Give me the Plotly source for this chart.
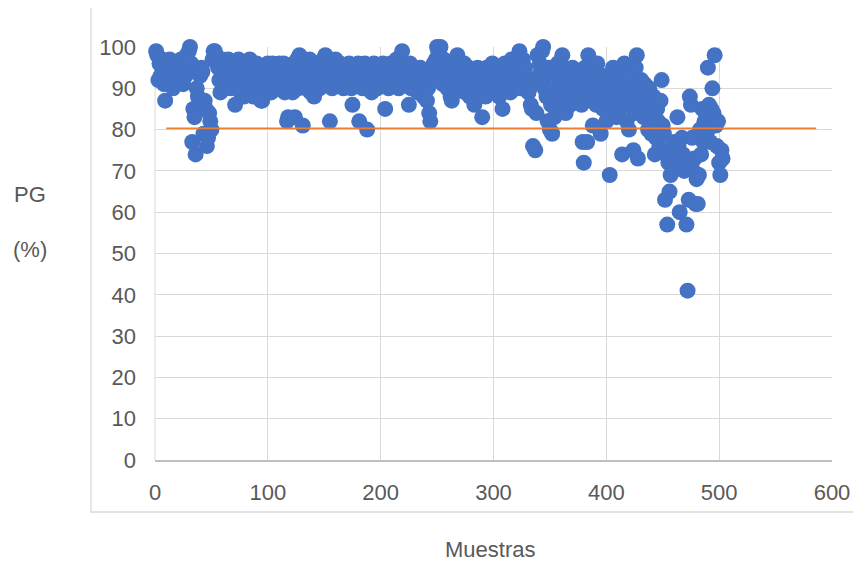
import plotly.graph_objects as go

# PG (%) per sample (sample number = position in list, starting at 1)
pg = [
    99, 98, 92, 96, 93, 97, 95, 91, 87, 94,
    96, 93, 97, 92, 95, 90, 94, 91, 96, 93,
    95, 92, 97, 94, 91, 96, 93, 98, 95, 99,
    100, 96, 77, 85, 83, 74, 90, 88, 86, 93,
    95, 94, 79, 87, 85, 76, 78, 84, 82, 80,
    97, 99, 99, 98, 96, 95, 92, 89, 94, 97,
    93, 96, 91, 95, 97, 92, 90, 94, 96, 93,
    86, 95, 91, 97, 94, 89, 92, 96, 88, 93,
    95, 91, 94, 97, 90, 93, 88, 95, 92, 96,
    89, 94, 91, 87, 87, 92, 95, 90, 93, 96,
    91, 94, 89, 96, 92, 90, 95, 93, 91, 96,
    94, 90, 93, 96, 89, 92, 82, 83, 95, 91,
    94, 89, 96, 83, 93, 97, 90, 98, 92, 95,
    81, 93, 96, 90, 94, 92, 97, 89, 95, 93,
    88, 94, 91, 96, 93, 90, 95, 92, 97, 94,
    98, 91, 95, 93, 82, 96, 90, 94, 92, 97,
    93, 95, 91, 96, 94, 92, 90, 95, 93, 91,
    94, 96, 92, 90, 86, 95, 93, 91, 94, 96,
    82, 92, 95, 90, 93, 96, 91, 80, 94, 92,
    95, 89, 93, 96, 91, 94, 90, 92, 95, 93,
    91, 96, 94, 85, 92, 95, 90, 93, 96, 94,
    92, 95, 91, 97, 93, 90, 94, 96, 99, 92,
    95, 91, 94, 93, 86, 96, 90, 92, 95, 93,
    91, 94, 89, 92, 95, 90, 93, 88, 91, 94,
    87, 90, 84, 82, 92, 95, 96, 93, 97, 100,
    99, 96, 100, 94, 91, 97, 93, 95, 90, 92,
    94, 88, 87, 96, 92, 89, 95, 98, 91, 93,
    90, 94, 92, 96, 89, 93, 91, 95, 88, 92,
    94, 90, 86, 93, 91, 95, 89, 92, 94, 83,
    91, 93, 88, 95, 90, 92, 94, 89, 96, 91,
    93, 90, 95, 92, 88, 94, 91, 85, 93, 96,
    90, 94, 92, 95, 89, 97, 93, 91, 96, 94,
    92, 95, 99, 90, 94, 97, 92, 95, 93, 91,
    89, 90, 86, 85, 76, 92, 75, 84, 98, 92,
    96, 94, 99, 100, 90, 93, 88, 82, 95, 80,
    86, 79, 90, 83, 85, 94, 96, 89, 92, 87,
    98, 95, 91, 84, 93, 88, 90, 86, 92, 95,
    89, 93, 87, 90, 94, 88, 92, 86, 77, 72,
    95, 89, 77, 98, 93, 91, 87, 81, 94, 90,
    86, 96, 88, 92, 79, 89, 85, 93, 87, 82,
    90, 84, 69, 92, 88, 95, 86, 91, 83, 94,
    89, 85, 93, 74, 87, 96, 91, 82, 88, 80,
    93, 86, 90, 75, 84, 95, 98, 73, 89, 85,
    92, 87, 83, 91, 88, 86, 80, 90, 84, 79,
    80, 88, 74, 78, 85, 82, 76, 87, 92, 81,
    79, 63, 74, 57, 72, 65, 69, 75, 70, 77,
    75, 73, 83, 76, 60, 71, 78, 74, 70, 72,
    57, 41, 63, 88, 86, 78, 70, 73, 62, 68,
    62, 69, 80, 74, 85, 77, 82, 84, 79, 95,
    86, 77, 85, 90, 84, 98, 81, 76, 82, 72,
    69, 75, 73,
]
muestras = list(range(1, len(pg) + 1))

# Reference (threshold) line
limite_x = [10, 586]
limite_y = [80.3, 80.3]

x_ticks = [0, 100, 200, 300, 400, 500, 600]
y_ticks = [0, 10, 20, 30, 40, 50, 60, 70, 80, 90, 100]

FONT = "Liberation Sans, Arial, sans-serif"
TXT = "#595959"
GRID = "#D9D9D9"

# page body has an 8px margin, so the figure is a bit smaller and its margins shifted
PAGE_OFF = 8
PW, PH = 677, 413          # plot area size in px
L, T = 155, 47             # plot area top-left on the page

fig = go.Figure()
fig.add_trace(go.Scatter(
    x=muestras, y=pg, mode="markers",
    marker=dict(color="#4472C4", size=16, line=dict(width=0)),
    cliponaxis=False, showlegend=False, hoverinfo="x+y",
))
fig.add_trace(go.Scatter(
    x=limite_x, y=limite_y, mode="lines",
    line=dict(color="#ED7D31", width=1.8),
    cliponaxis=False, showlegend=False,
))


def px(xp):
    return (xp - L) / PW


def py(yp):
    return (T + PH - yp) / PH


fig.update_layout(
    width=861 - PAGE_OFF, height=563 - PAGE_OFF,
    margin=dict(l=L - PAGE_OFF, r=861 - PAGE_OFF - (L - PAGE_OFF) - PW,
                t=T - PAGE_OFF, b=563 - PAGE_OFF - (T - PAGE_OFF) - PH, pad=0),
    paper_bgcolor="white", plot_bgcolor="white",
    font=dict(family=FONT, color=TXT, size=22),
    xaxis=dict(
        range=[0, 600], tickvals=x_ticks, ticktext=[str(v) for v in x_ticks],
        showgrid=True, gridcolor=GRID, gridwidth=1,
        zeroline=False, showline=True, linecolor="#BFBFBF", linewidth=1.5,
        ticks="", ticklabelstandoff=12,
        tickfont=dict(family=FONT, size=22, color=TXT),
    ),
    yaxis=dict(
        range=[0, 100], tickvals=y_ticks, ticktext=[str(v) for v in y_ticks],
        showgrid=True, gridcolor=GRID, gridwidth=1,
        zeroline=False, showline=False,
        ticks="", ticklabelstandoff=18,
        tickfont=dict(family=FONT, size=22, color=TXT),
    ),
    shapes=[
        dict(type="line", xref="paper", yref="paper",
             x0=0, x1=0, y0=0, y1=1,
             line=dict(color=GRID, width=1), layer="below"),
        dict(type="rect", xref="paper", yref="paper",
             x0=px(91), x1=px(870), y0=py(512), y1=py(6),
             line=dict(color=GRID, width=1.3), fillcolor="rgba(0,0,0,0)",
             layer="below"),
    ],
    annotations=[
        dict(text="PG", xref="paper", yref="paper", x=px(30), y=py(195),
             showarrow=False, xanchor="center", yanchor="middle",
             font=dict(family=FONT, size=22, color=TXT)),
        dict(text="(%)", xref="paper", yref="paper", x=px(30), y=py(249),
             showarrow=False, xanchor="center", yanchor="middle",
             font=dict(family=FONT, size=22, color=TXT)),
        dict(text="Muestras", xref="paper", yref="paper", x=px(490), y=py(549),
             showarrow=False, xanchor="center", yanchor="middle",
             font=dict(family=FONT, size=22, color=TXT)),
    ],
)

fig.write_html("out.html")
